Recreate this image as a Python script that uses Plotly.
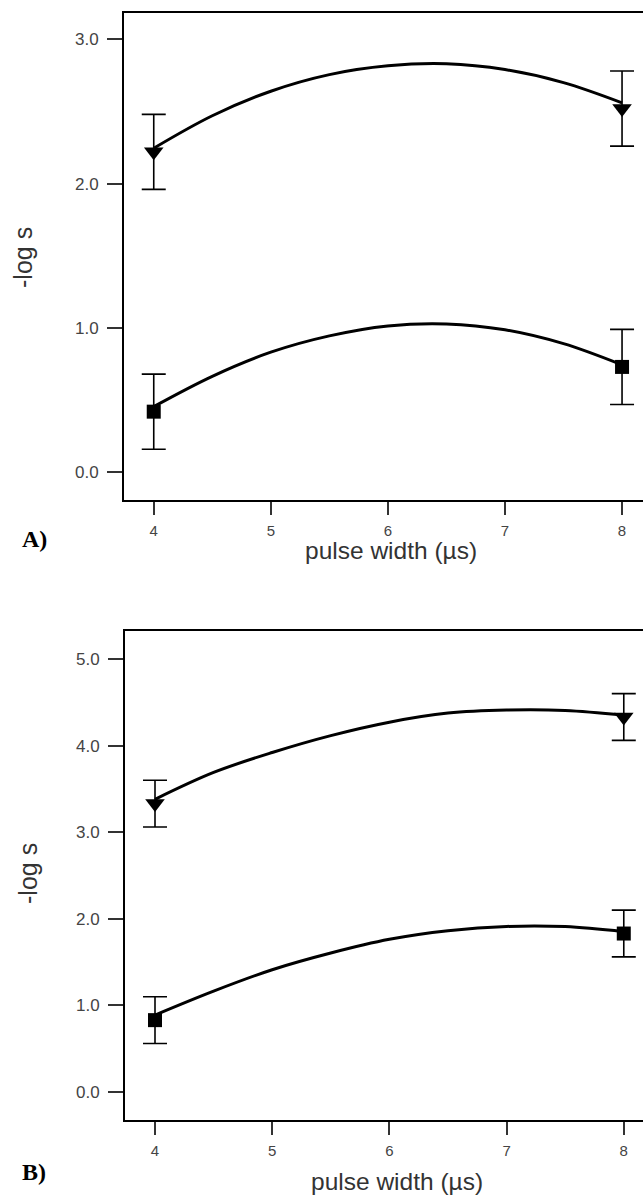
import plotly.graph_objects as go

W, H = 643, 1195

# ---------------- data ----------------
pulse_x = [4, 8]
fit_x = [4, 4.5, 5, 5.5, 6, 6.5, 7, 7.5, 8]

# Panel A
a_tri = [2.22, 2.52]
a_tri_err = [0.26, 0.26]
a_sq = [0.42, 0.73]
a_sq_err = [0.26, 0.26]
a_tri_fit = [2.245, 2.47, 2.64, 2.755, 2.816, 2.83, 2.79, 2.70, 2.56]
a_sq_fit = [0.455, 0.665, 0.832, 0.945, 1.014, 1.028, 0.987, 0.891, 0.744]

# Panel B
b_tri = [3.33, 4.33]
b_tri_err = [0.27, 0.27]
b_sq = [0.83, 1.83]
b_sq_err = [0.27, 0.27]
b_tri_fit = [3.38, 3.69, 3.92, 4.115, 4.27, 4.375, 4.41, 4.405, 4.35]
b_sq_fit = [0.889, 1.165, 1.412, 1.605, 1.763, 1.862, 1.912, 1.91, 1.851]

x_ticks = [4, 5, 6, 7, 8]
a_yticks = [0, 1, 2, 3]
b_yticks = [0, 1, 2, 3, 4, 5]
x_title = "pulse width (\u00b5s)"
y_title = "-log s"
panel_labels = ["A)", "B)"]


def px(x):
    return x / W


def py(y):
    return 1 - y / H


fig = go.Figure()


def add_panel(xa, ya, fits, pts, errs, symbols):
    for f in fits:
        fig.add_trace(go.Scatter(x=fit_x, y=f, mode="lines", xaxis=xa, yaxis=ya,
                                 line=dict(color="black", width=3, shape="spline"),
                                 showlegend=False, hoverinfo="skip"))
    for p, e, s in zip(pts, errs, symbols):
        size = 17 if s == "triangle-down" else 14
        fig.add_trace(go.Scatter(x=pulse_x, y=p, mode="markers", xaxis=xa, yaxis=ya,
                                 marker=dict(symbol=s, size=size, color="black",
                                             line=dict(width=0)),
                                 error_y=dict(type="data", array=e, visible=True,
                                              color="black", thickness=1.6, width=12),
                                 showlegend=False))


add_panel("x", "y", [a_tri_fit, a_sq_fit], [a_tri, a_sq], [a_tri_err, a_sq_err],
          ["triangle-down", "square"])
add_panel("x2", "y2", [b_tri_fit, b_sq_fit], [b_tri, b_sq], [b_tri_err, b_sq_err],
          ["triangle-down", "square"])

xtick_font = dict(family="Liberation Sans, Arial, sans-serif", size=15, color="#444")
ytick_font = dict(family="Liberation Sans, Arial, sans-serif", size=17, color="#444")
title_font = dict(family="Liberation Sans, Arial, sans-serif", size=24.5, color="#333")
ytitle_font = dict(family="Liberation Sans, Arial, sans-serif", size=25, color="#333")

xcommon = dict(tickvals=x_ticks, ticks="outside", ticklen=13, tickwidth=1.5,
               tickcolor="#333", showgrid=False, zeroline=False, showline=True,
               linewidth=2, linecolor="black", mirror=True, tickfont=xtick_font,
               ticklabelstandoff=3)
ycommon = dict(ticks="outside", ticklen=15, tickwidth=1.5, tickcolor="#333",
               showgrid=False, zeroline=False, showline=True, linewidth=2,
               linecolor="black", mirror=False, tickfont=ytick_font,
               tickformat=".1f", ticklabelstandoff=5)

fig.update_layout(
    width=W, height=H,
    margin=dict(l=0, r=0, t=0, b=0),
    paper_bgcolor="white", plot_bgcolor="white",
    xaxis=dict(domain=[px(124), 1], range=[3.746, 8.179], anchor="y", **xcommon),
    yaxis=dict(domain=[py(500), py(13)], range=[-0.192, 3.182], anchor="x",
               tickvals=a_yticks, **ycommon),
    xaxis2=dict(domain=[px(125), 1], range=[3.744, 8.164], anchor="y2", **xcommon),
    yaxis2=dict(domain=[py(1120), py(631)], range=[-0.323, 5.323], anchor="x2",
                tickvals=b_yticks, **ycommon),
)

annos = [
    dict(text=y_title, x=px(23), y=py(258), textangle=-90, font=ytitle_font),
    dict(text=y_title, x=px(27.5), y=py(873.5), textangle=-90, font=ytitle_font),
    dict(text=x_title, x=px(391), y=py(550), font=title_font),
    dict(text=x_title, x=px(396.7), y=py(1181), font=title_font),
]
for a in annos:
    fig.add_annotation(xref="paper", yref="paper", xanchor="center", yanchor="middle",
                       showarrow=False, **a)

for lab, yy in zip(panel_labels, [539, 1171.7]):
    fig.add_annotation(text="<b>" + lab + "</b>", xref="paper", yref="paper",
                       x=px(20), y=py(yy), xanchor="left", yanchor="middle",
                       showarrow=False,
                       font=dict(family="Liberation Serif, Times New Roman, serif",
                                 size=24, color="black"))

fig.write_html("out.html")
